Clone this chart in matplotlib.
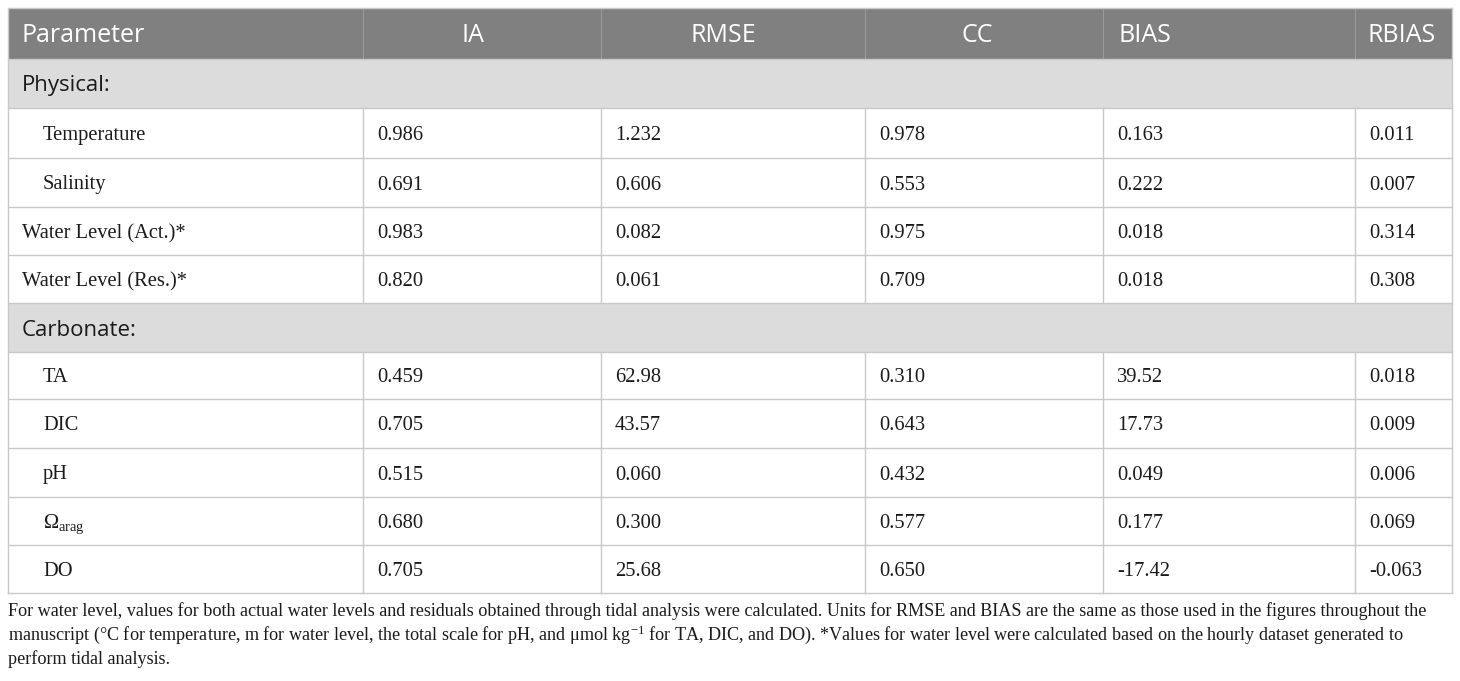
import matplotlib.pyplot as plt
from matplotlib.patches import Rectangle

plt.rcParams['mathtext.fontset'] = 'custom'
plt.rcParams['mathtext.rm'] = 'Liberation Serif'
plt.rcParams['mathtext.it'] = 'Liberation Serif:italic'

# table content
header = ["Parameter", "IA", "RMSE", "CC", "BIAS", "RBIAS"]
sections = ["Physical:", "Carbonate:"]
section_first_row = [0, 4]
params = ["Temperature", "Salinity", "Water Level (Act.)*", "Water Level (Res.)*",
          "TA", "DIC", "pH", r"$\Omega_{\mathrm{arag}}$", "DO"]
indented = [True, True, False, False, True, True, True, True, True]
ia = ["0.986", "0.691", "0.983", "0.820", "0.459", "0.705", "0.515", "0.680", "0.705"]
rmse = ["1.232", "0.606", "0.082", "0.061", "62.98", "43.57", "0.060", "0.300", "25.68"]
cc = ["0.978", "0.553", "0.975", "0.709", "0.310", "0.643", "0.432", "0.577", "0.650"]
bias = ["0.163", "0.222", "0.018", "0.018", "39.52", "17.73", "0.049", "0.177", "-17.42"]
rbias = ["0.011", "0.007", "0.314", "0.308", "0.018", "0.009", "0.006", "0.069", "-0.063"]
footnote = [
    "For water level, values for both actual water levels and residuals obtained through tidal analysis were calculated. "
    "Units for RMSE and BIAS are the same as those used in the figures throughout the",
    "manuscript (°C for temperature, m for water level, the total scale for pH, and μmol kg$^{-1}$ for TA, DIC, and DO). "
    "*Values for water level were calculated based on the hourly dataset generated to",
    "perform tidal analysis.",
]

# layout (pixels)
col_edges = [8, 363, 601, 865, 1103, 1355, 1452]
header_x = [22, 473, 723, 977, 1145, 1402]
header_ha = ['left', 'center', 'center', 'center', 'center', 'center']
row_edges = [7.5, 59, 108, 158, 207, 255, 303, 352, 399, 448, 497, 545, 593]
pad = 14

fig = plt.figure(figsize=(14.6, 6.81), dpi=100)
ax = fig.add_axes([0, 0, 1, 1])
ax.set_xlim(0, 1460)
ax.set_ylim(681, 0)
ax.axis('off')

left, right = col_edges[0], col_edges[-1]
grid = '#c9c9c9'
sans = 'Open Sans'
serif = 'Liberation Serif'
ink = '#1a1a1a'

# header
ax.add_patch(Rectangle((left, row_edges[0]), right - left, row_edges[1] - row_edges[0],
                       facecolor='#808080', edgecolor='none'))
for x in col_edges[1:-1]:
    ax.plot([x, x], [row_edges[0], row_edges[1]], color='#9a9a9a', lw=0.8)
yc = (row_edges[0] + row_edges[1]) / 2
for txt, x, ha in zip(header, header_x, header_ha):
    ax.text(x, yc + 9, txt, color='white', fontsize=18, family=sans, ha=ha, va='baseline')

# body rows
r = 1
for i, p in enumerate(params):
    if i in section_first_row:
        s = sections[section_first_row.index(i)]
        y0, y1 = row_edges[r], row_edges[r + 1]
        ax.add_patch(Rectangle((left, y0), right - left, y1 - y0,
                               facecolor='#dcdcdc', edgecolor='none'))
        ax.text(22, (y0 + y1) / 2 + 8, s, fontsize=16, family=sans, color=ink,
                ha='left', va='baseline')
        r += 1
    y0, y1 = row_edges[r], row_edges[r + 1]
    ym = (y0 + y1) / 2
    for x in col_edges[1:-1]:
        ax.plot([x, x], [y0, y1], color=grid, lw=1)
    ax.text(43 if indented[i] else 22, ym + 7, p, fontsize=14.8, family=serif,
            color=ink, ha='left', va='baseline')
    vals = [ia[i], rmse[i], cc[i], bias[i], rbias[i]]
    for j, v in enumerate(vals):
        ax.text(col_edges[j + 1] + pad, ym + 7, v, fontsize=14.8, family=serif,
                color=ink, ha='left', va='baseline')
    r += 1

# horizontal grid lines and outer border
for y in row_edges:
    ax.plot([left, right], [y, y], color=grid, lw=1)
ax.plot([left, left], [row_edges[0], row_edges[-1]], color=grid, lw=1)
ax.plot([right, right], [row_edges[0], row_edges[-1]], color=grid, lw=1)

# footnote
for k, line in enumerate(footnote):
    ax.text(8, 611 + 24 * k, line, fontsize=13.1, family=serif, color=ink,
            ha='left', va='center')

fig.savefig('out.png', dpi=100)
